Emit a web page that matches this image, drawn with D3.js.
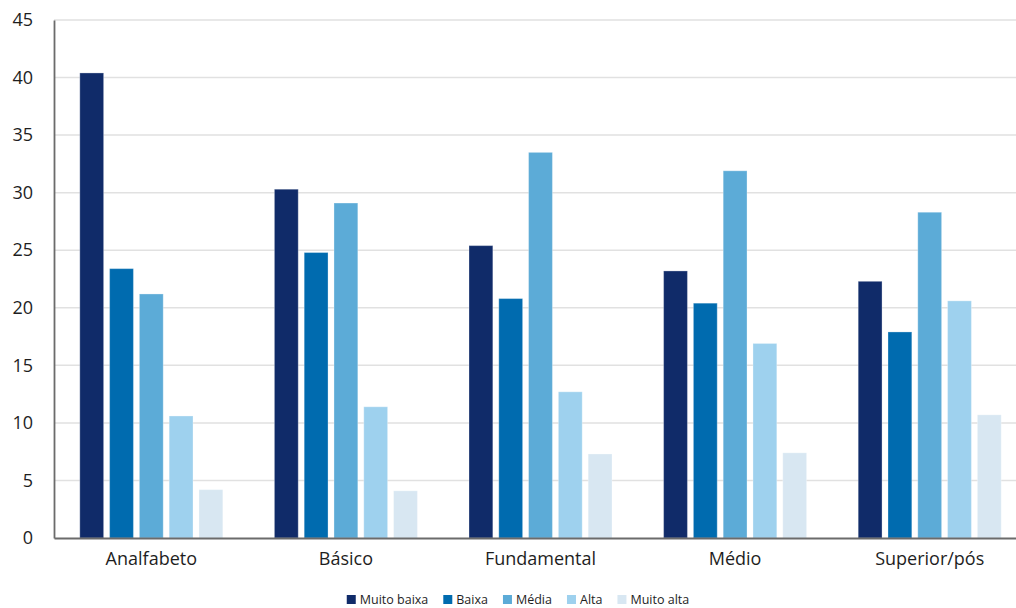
<!DOCTYPE html>
<html>
<head>
<meta charset="utf-8">
<script src="https://cdn.jsdelivr.net/npm/d3@7"></script>
<style>
  html, body { margin: 0; padding: 0; background: #fff; }
  svg { display: block; font-family: "Open Sans", "Noto Sans", sans-serif; }
</style>
</head>
<body>
<svg id="chart" width="1016" height="608"></svg>
<script>
const categories = ["Analfabeto", "Básico", "Fundamental", "Médio", "Superior/pós"];
const seriesNames = ["Muito baixa", "Baixa", "Média", "Alta", "Muito alta"];
const muitoBaixa = [40.4, 30.3, 25.4, 23.2, 22.3];
const baixa      = [23.4, 24.8, 20.8, 20.4, 17.9];
const media      = [21.2, 29.1, 33.5, 31.9, 28.3];
const alta       = [10.6, 11.4, 12.7, 16.9, 20.6];
const muitoAlta  = [4.2, 4.1, 7.3, 7.4, 10.7];
const yTicks = [0, 5, 10, 15, 20, 25, 30, 35, 40, 45];
const colors = ["#102b69", "#006baf", "#5cabd7", "#9ed1ee", "#d8e7f2"];

const seriesValues = [muitoBaixa, baixa, media, alta, muitoAlta];

(function () {
const svg = d3.select("#chart");
const mLeft = 54, mRight = 1027, mTop = 20, mBottom = 538;

const x0 = d3.scaleBand().domain(categories).range([mLeft, mRight]).paddingInner(0).paddingOuter(0);
const bw = x0.bandwidth();
const groupW = 143;
const x1 = d3.scaleBand().domain(seriesNames)
  .range([(bw - groupW) / 2, (bw + groupW) / 2]).paddingInner(0.2).paddingOuter(0);
const y = d3.scaleLinear().domain([0, 45]).range([mBottom, mTop]);

// gridlines
svg.append("g")
  .selectAll("line")
  .data(yTicks.filter(d => d > 0))
  .join("line")
  .attr("x1", mLeft).attr("x2", mRight)
  .attr("y1", d => y(d)).attr("y2", d => y(d))
  .attr("stroke", "#e1e1e1").attr("stroke-width", 1.5);

// bars
const groups = svg.append("g").selectAll("g")
  .data(categories)
  .join("g")
  .attr("transform", d => `translate(${x0(d)},0)`);

groups.selectAll("rect")
  .data((c, ci) => seriesNames.map((s, si) => ({ s, si, v: seriesValues[si][ci] })))
  .join("rect")
  .attr("x", d => x1(d.s))
  .attr("width", x1.bandwidth())
  .attr("y", d => y(d.v))
  .attr("height", d => y(0) - y(d.v))
  .attr("fill", d => colors[d.si])
  .attr("stroke", "#ffffff").attr("stroke-opacity", 0.3).attr("stroke-width", 1);

// y axis
const yAxis = d3.axisLeft(y).tickValues(yTicks).tickSize(0).tickPadding(21);
const gy = svg.append("g").attr("transform", `translate(${mLeft},0)`).call(yAxis);
gy.select(".domain").attr("stroke", "#6b6b6b").attr("stroke-width", 1.8);
gy.selectAll("text").attr("font-size", 18).attr("fill", "#1e1e1e")
  .attr("font-family", "'Open Sans', 'Noto Sans', sans-serif");

// x axis
const xAxis = d3.axisBottom(x0).tickSize(0).tickPadding(14);
const gx = svg.append("g").attr("transform", `translate(0,${mBottom})`).call(xAxis);
gx.select(".domain").attr("stroke", "#6b6b6b").attr("stroke-width", 1.8);
gx.selectAll("text").attr("font-size", 18).attr("fill", "#1e1e1e")
  .attr("font-family", "'Open Sans', 'Noto Sans', sans-serif");

// legend
const legend = svg.append("g");
const items = legend.selectAll("g").data(seriesNames).join("g");
items.append("rect").attr("width", 9).attr("height", 9).attr("y", -9)
  .attr("fill", (d, i) => colors[i]);
items.append("text").attr("x", 13).attr("y", 0)
  .attr("font-size", 12.5).attr("fill", "#1e1e1e").text(d => d);
let xPos = 0;
items.each(function () {
  const g = d3.select(this);
  g.attr("transform", `translate(${xPos},0)`);
  const w = g.select("text").node().getComputedTextLength();
  xPos += 13 + w + 15;
});
const totalW = xPos - 15;
legend.attr("transform", `translate(${518 - totalW / 2},604)`);
})();
</script>
</body>
</html>
